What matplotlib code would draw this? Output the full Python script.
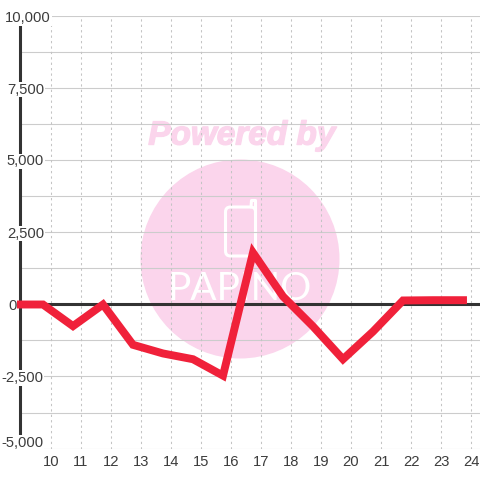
import matplotlib
matplotlib.use('Agg')
import matplotlib.pyplot as plt
import matplotlib.patheffects as pe
from matplotlib.patches import Circle, FancyBboxPatch

hours = [9, 9.75, 10.75, 11.75, 12.75, 13.75, 14.75, 15.75, 16.75, 17.75, 18.75, 19.75, 20.75, 21.75, 22.75, 23.75]
values = [0, 0, -750, 0, -1400, -1700, -1900, -2470, 1800, 280, -760, -1900, -940, 140, 150, 150]
x_ticks = list(range(10, 25))
y_major = [-5000, -2500, 0, 2500, 5000, 7500, 10000]
y_labels = ['-5,000', '-2,500', '0', '2,500', '5,000', '7,500', '10,000']
y_minor = [-3750, -1250, 1250, 3750, 6250, 8750]

# pixel placement of the y labels (right edge, vertical centre)
label_right = [43.5, 43.5, 16.5, 44, 44, 44, 51]
label_y = [441.5, 376.5, 304, 232, 160, 88, 16.5]

plt.rcParams['font.family'] = 'Liberation Sans'
fig = plt.figure(figsize=(4.8, 4.8), dpi=100)
L, R, T, B = 20.5, 480, 16.5, 448.5
ax = fig.add_axes([L/480, 1-B/480, (R-L)/480, (B-T)/480])
ax.set_xlim(9, 9 + (R-L)/30)
ax.set_ylim(-5000, 10000)
for s in ax.spines.values():
    s.set_visible(False)
ax.tick_params(length=0, labelleft=False, labelbottom=False)
ax.set_xticks(x_ticks)
ax.set_yticks(y_major + y_minor)
ax.patch.set_alpha(0)

pink = '#FBD5EC'
logo = fig.add_axes([0, 0, 1, 1], zorder=-1)
logo.set_xlim(0, 480); logo.set_ylim(480, 0); logo.axis('off')
logo.add_patch(Circle((240, 259), 99.5, fc=pink, ec='none'))
logo.add_patch(FancyBboxPatch((225.5, 207), 30, 49, boxstyle='round,pad=0,rounding_size=5', fc='none', ec='white', lw=2.2))
logo.plot([251, 251.5, 255.5, 255.5], [207, 200.5, 200.5, 215], color='white', lw=2.2, solid_capstyle='round')
logo.text(240, 289, 'PAPINO', color='white', fontsize=28, ha='center', va='center', family='Lato')
logo.text(242, 136, 'Powered by', color=pink, fontsize=24, fontweight='bold', style='italic', ha='center', va='center',
          path_effects=[pe.withStroke(linewidth=1, foreground=pink)])

for y in y_major + y_minor:
    ax.axhline(y, color='#CCCCCC', lw=0.8, zorder=1)
for x in x_ticks:
    ax.plot([x, x], [-5000, 10000], color='#C4C4C4', lw=0.75, ls=(0, (2.2, 3)), zorder=1)

ax.axhline(0, color='#333333', lw=2.2, zorder=2)
ax.plot([8.985, 8.985], [-4610, 9720], color='#333333', lw=2.2, zorder=2, clip_on=False, solid_capstyle='butt')

ax.plot(hours, values, color='#F0213A', lw=5.7, zorder=3, solid_joinstyle='miter', solid_capstyle='projecting', clip_on=False)

bb = dict(fc='white', ec='none', pad=0.6)
for s, r, yy in zip(y_labels, label_right, label_y):
    fig.text(r/480, 1-yy/480, s, ha='right', va='center_baseline', fontsize=10.6, color='#3C3C3C', bbox=bb, zorder=5)
for x in x_ticks:
    xx, _ = ax.transData.transform((x, 0))
    fig.text((xx+0.5)/480, 1-461/480, str(x), ha='center', va='center_baseline', fontsize=10.6, color='#3C3C3C')

fig.savefig('out.png', dpi=100)
